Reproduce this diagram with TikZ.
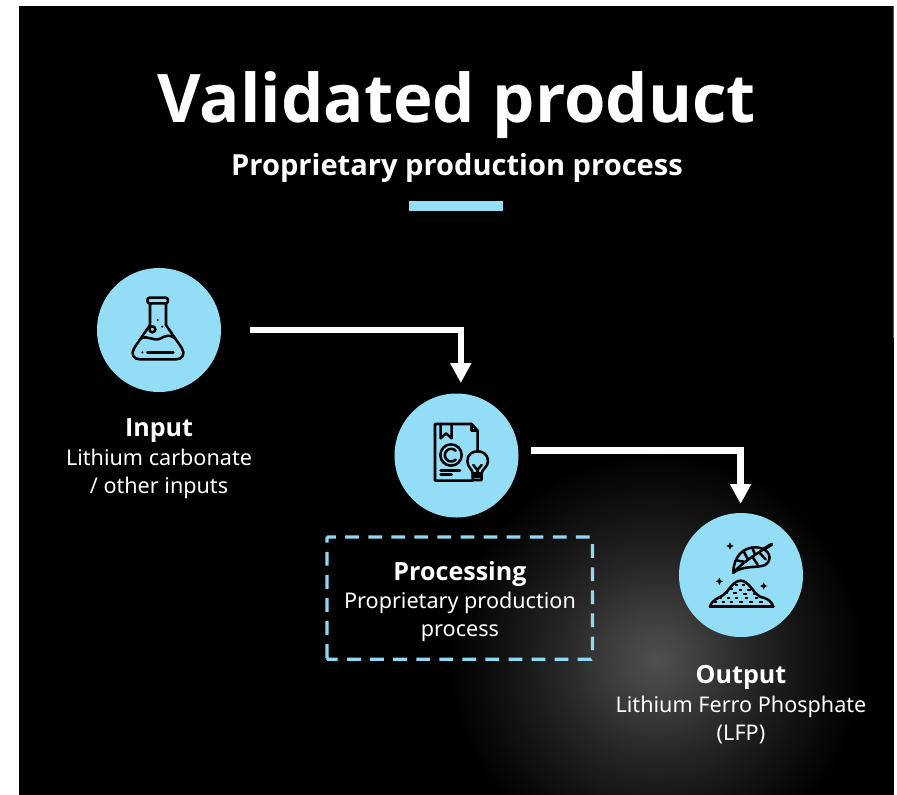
\documentclass[tikz,border=0pt]{standalone}
\usepackage{fontspec}
\setmainfont{Open Sans}
\newfontfamily\bodyfont{Noto Sans}
\usetikzlibrary{arrows.meta,calc}
\definecolor{sky}{HTML}{93DDF7}
\definecolor{dashsky}{HTML}{8FD9F2}
\definecolor{glowa}{gray}{0.31}
\definecolor{glowb}{gray}{0.25}
\definecolor{glowc}{gray}{0.15}
\definecolor{glowd}{gray}{0.07}
\pgfdeclareradialshading{glowshade}{\pgfpoint{0bp}{0bp}}{color(0bp)=(glowa); color(2.5bp)=(glowb); color(6bp)=(glowc); color(9.5bp)=(glowd); color(13bp)=(black); color(50bp)=(black)}
\tikzset{
  x=.75pt,y=-.75pt,
  disc/.style={circle,fill=sky,minimum size=93pt,inner sep=0pt},
  flow/.style={draw=white,line width=4.9pt,-{Triangle[length=15pt,width=15pt]}},
  heading/.style={text=white,align=center,font=\bfseries\fontsize{18.8}{21}\selectfont},
  caption/.style={text=white,align=center,font=\bodyfont\fontsize{16.2}{21}\selectfont},
  icon/.style={draw=black,line width=1.9pt,line cap=round,line join=round},
}
\begin{document}
\begin{tikzpicture}
\useasboundingbox (0,0) rectangle (897,794);
\fill[white] (0,0) rectangle (897,794);
\begin{scope}
\clip (18.5,6) rectangle (893.5,796);
\fill[black] (18.5,6) rectangle (893.5,796);
\shade[shading=glowshade] (656,660) circle[radius=400];
\end{scope}
\node[text=white,anchor=base,font=\bfseries\fontsize{50.3}{60}\selectfont] (title) at (456.8,122.7) {Validated product};
\node[text=white,anchor=base,font=\bfseries\fontsize{21.8}{24}\selectfont] (subtitle) at (457,175) {Proprietary production process};
\fill[sky] (409,201) rectangle (503,211);
\node[disc] (input) at (159,330) {};
\node[disc] (proc) at (456.5,455.5) {};
\node[disc] (out) at (741,575) {};
\coordinate (start1) at (250,330);
\coordinate (tip1) at (460.8,383);
\coordinate (start2) at (530.7,450.7);
\coordinate (tip2) at (740.6,504);
\draw[flow] (start1) -| (tip1);
\draw[flow] (start2) -| (tip2);
% flask
\begin{scope}[shift={(90,260)},x=.25pt,y=-.25pt]
\draw[icon] (178,113) -- (228,113) .. controls (236,113) and (236,130) .. (228,130) -- (178,130) .. controls (170,130) and (170,113) .. (178,113) -- cycle;
\draw[icon] (180,130) -- (180,195) -- (132,265) .. controls (122,282) and (130,298) .. (150,298) -- (258,298) .. controls (278,298) and (286,282) .. (276,265) -- (228,195) -- (228,130);
\draw[icon] (153,235) .. controls (175,225) and (190,245) .. (210,236) .. controls (225,228) and (240,222) .. (254,234);
\draw[icon] (187,208) circle[radius=9];
\fill[black] (203,180) circle[radius=3.5] (217,200) circle[radius=3.5] (157,277) circle[radius=3.5];
\draw[icon] (172,277) -- (250,277);
\end{scope}
% document and bulb
\begin{scope}[shift={(390,390)},x=.25pt,y=-.25pt]
\draw[icon] (248,272) -- (135,272) -- (135,102) -- (245,102) -- (263,122) -- (263,185);
\draw[icon] (245,102) -- (245,122) -- (263,122);
\draw[icon] (152,102) -- (152,145) -- (168,130) -- (185,145) -- (185,102);
\draw[icon] (183,195) circle[radius=32];
\draw[icon] (197,182) arc[start angle=-45,end angle=-315,radius=19];
\draw[icon] (152,241) -- (210,241);
\draw[icon] (152,254) -- (185,254);
\draw[icon] (248,250) .. controls (248,238) and (232,232) .. (232,213) .. controls (232,174) and (294,174) .. (294,213) .. controls (294,232) and (275,238) .. (275,250) -- (275,270) -- (248,270) -- cycle;
\draw[icon] (250,225) -- (262,240) -- (275,225);
\draw[icon] (262,240) -- (262,250);
\draw[icon] (248,250) -- (275,250);
\draw[icon] (248,260) -- (275,260);
\end{scope}
% leaf and pile
\begin{scope}[shift={(675,510)},x=.25pt,y=-.25pt]
\draw[icon] (175,188) .. controls (175,140) and (205,110) .. (245,112) .. controls (285,115) and (295,150) .. (270,165) .. controls (245,175) and (205,165) .. (175,188) -- cycle;
\draw[icon] (175,188) .. controls (205,155) and (240,135) .. (265,118);
\draw[icon] (188,152) -- (212,156);
\draw[icon] (205,122) -- (218,147);
\draw[icon] (232,113) -- (240,134);
\draw[icon] (232,140) -- (248,164);
\draw[icon] (255,130) -- (272,148);
\draw[icon,line width=2.6pt] (265,118) -- (290,103);
\draw[icon] (105,290) -- (295,290);
\draw[icon] (105,290) .. controls (112,268) and (130,265) .. (145,255) .. controls (165,238) and (175,212) .. (197,212) .. controls (222,212) and (235,250) .. (255,260) .. controls (275,265) and (288,270) .. (295,290);
\foreach \px/\py in {185/225, 205/225, 170/238, 197/240, 222/240, 155/250, 180/250, 210/252, 240/252, 135/265, 160/265, 185/265, 215/265, 245/265, 120/277, 145/277, 170/277, 198/277, 228/277, 258/277}{
  \draw[black,line width=1.6pt] (\px-5,\py) -- (\px+5,\py);
}
\foreach \px/\py in {165/108, 133/214, 266/228}{
  \fill[black] (\px,\py-11) -- (\px+3.5,\py-3.5) -- (\px+11,\py) -- (\px+3.5,\py+3.5) -- (\px,\py+11) -- (\px-3.5,\py+3.5) -- (\px-11,\py) -- (\px-3.5,\py-3.5) -- cycle;
}
\end{scope}
% dashed box
\draw[dashsky,line width=2.5pt,dash pattern=on 10.3pt off 7pt,rounded corners=1pt] (327,659.3) -- (327,537) -- (592.5,537) -- (592.5,659.3) -- cycle;
% labels
\node[heading] (inhead) at (159,431) {Input};
\node[caption] (incap) at (159,474) {Lithium carbonate\\/ other inputs};
\node[heading] (prochead) at (460,574) {Processing};
\node[caption] (proccap) at (460,617) {Proprietary production\\process};
\node[heading] (outhead) at (741,677) {Output};
\node[caption] (outcap) at (741,720) {Lithium Ferro Phosphate\\(LFP)};
\end{tikzpicture}
\end{document}
